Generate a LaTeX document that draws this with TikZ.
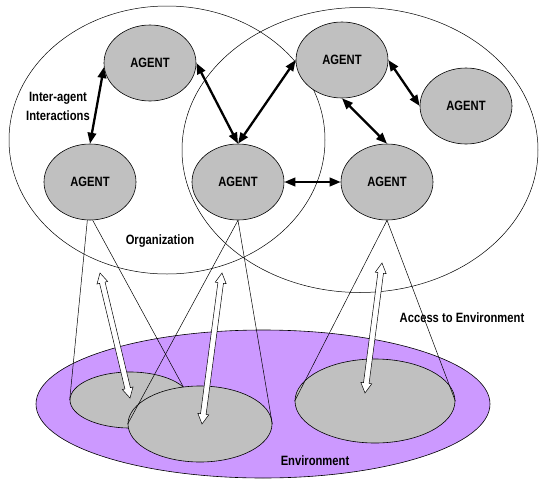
\documentclass[tikz,border=0pt]{standalone}
\usepackage{fontspec}
\newfontfamily\labelfont[FakeStretch=0.83]{Liberation Sans}
\usetikzlibrary{arrows.meta,shapes.geometric,calc}
\definecolor{agentgray}{RGB}{192,192,192}
\definecolor{envpurple}{RGB}{204,153,255}
\newcommand{\accessarrow}[2]{%
  \draw[accessarr] (#1)
    -- ($($(#1)!10pt!(#2)$)!5.5pt!90:(#2)$)
    -- ($($(#1)!10pt!(#2)$)!2.8pt!90:(#2)$)
    -- ($($(#2)!10pt!(#1)$)!2.8pt!-90:(#1)$)
    -- ($($(#2)!10pt!(#1)$)!5.5pt!-90:(#1)$)
    -- (#2)
    -- ($($(#2)!10pt!(#1)$)!5.5pt!90:(#1)$)
    -- ($($(#2)!10pt!(#1)$)!2.8pt!90:(#1)$)
    -- ($($(#1)!10pt!(#2)$)!2.8pt!-90:(#2)$)
    -- ($($(#1)!10pt!(#2)$)!5.5pt!-90:(#2)$)
    -- cycle;}

\begin{document}
\begin{tikzpicture}[x=1pt,y=-1pt,
    agent/.style={ellipse,draw,fill=agentgray,line width=0.6pt,minimum width=92pt,minimum height=76pt,inner sep=0pt,font=\labelfont\bfseries\fontsize{13.5}{15}\selectfont},
    org/.style={ellipse,draw,line width=0.5pt,inner sep=0pt},
    patch/.style={ellipse,draw,fill=agentgray,line width=0.6pt,inner sep=0pt},
    lbl/.style={font=\labelfont\bfseries\fontsize{13.5}{19}\selectfont,align=center},
    link/.style={{Triangle[length=11pt,width=8.5pt]}-{Triangle[length=11pt,width=8.5pt]},line width=2.3pt},
    cone/.style={line width=0.5pt},
    accessarr/.style={fill=white,line width=0.5pt,line join=miter},
]
\useasboundingbox (0,0) rectangle (539,480);
\node[org,minimum width=316pt,minimum height=268pt] (org1) at (167,140) {};
\node[org,minimum width=356pt,minimum height=285pt] (org2) at (360,150) {};
\node[ellipse,draw,fill=envpurple,line width=0.6pt,minimum width=454pt,minimum height=148pt] (env) at (263,404) {};
\node[patch,minimum width=120pt,minimum height=56pt] (f1) at (130,400) {};
\node[patch,minimum width=144pt,minimum height=76pt] (f2) at (200,424) {};
\node[patch,minimum width=160pt,minimum height=84pt] (f3) at (375,401) {};
\node[agent] (a1) at (150,63) {AGENT};
\node[agent] (a2) at (90,182) {AGENT};
\node[agent] (a3) at (238,182) {AGENT};
\node[agent] (a4) at (342,60) {AGENT};
\node[agent] (a5) at (466,106) {AGENT};
\node[agent] (a6) at (387,182) {AGENT};
\foreach \i/\j in {a2.266/f1.west,a2.274/f1.14,a3.south/f2.west,a3.south/f2.east,a6.south/f3.west,a6.south/f3.east}
  \draw[cone] (\i) -- (\j);
\foreach \i/\j in {a1.185/a2.north,a1.east/a3.north,a4.west/a3.north,a4.east/a5.west,a4.south/a6.north,a3.east/a6.west}
  \draw[link] (\i) -- (\j);
\coordinate (h1a) at (100,273);
\coordinate (h1b) at (130,398);
\coordinate (h2a) at (222,273);
\coordinate (h2b) at (202,424);
\coordinate (h3a) at (382,263);
\coordinate (h3b) at (365,393);
\foreach \s/\e in {h1a/h1b,h2a/h2b,h3a/h3b}
  \accessarrow{\s}{\e};
\node[lbl] (inter) at (58,106) {Inter-agent\\Interactions};
\node[lbl] (orglbl) at (160,241) {Organization};
\node[lbl] (access) at (462,318) {Access to Environment};
\node[lbl] (envlbl) at (315,461) {Environment};
\end{tikzpicture}
\end{document}
